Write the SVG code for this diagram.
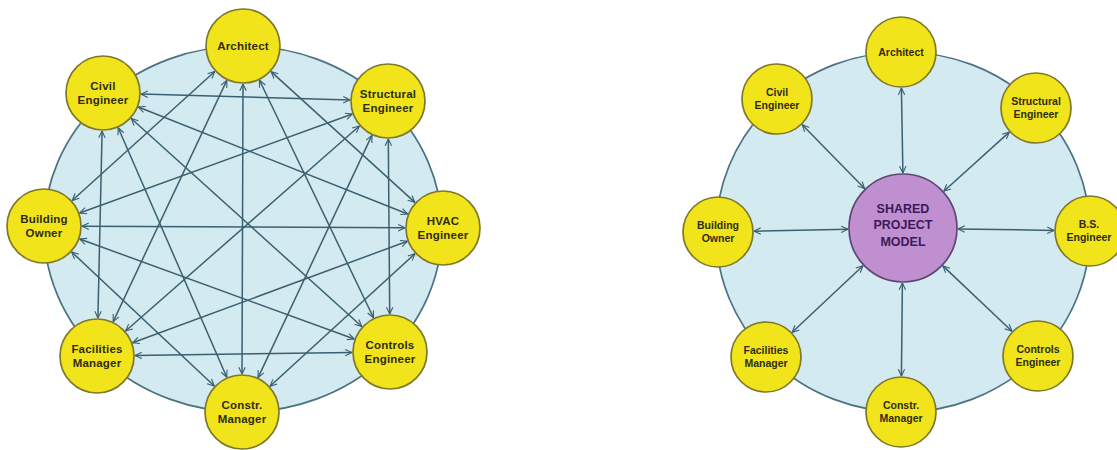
<svg xmlns="http://www.w3.org/2000/svg" width="1117" height="450" viewBox="0 0 1117 450">
<defs>
<style>
.bg{fill:#d4eaf1;stroke:#4a7282;stroke-width:1.7}
.node{fill:#f2e41a;stroke:#7d782a;stroke-width:1.7}
.hub{fill:#c08fcf;stroke:#5e4676;stroke-width:1.7}
.lbl{font-family:"Liberation Sans",Arial,sans-serif;font-weight:bold;font-size:11.5px;fill:#2e2c12;text-anchor:middle;letter-spacing:0.2px}
.lbl2{font-family:"Liberation Sans",Arial,sans-serif;font-weight:bold;font-size:10.5px;fill:#2e2c12;text-anchor:middle}
.hubt{font-family:"Liberation Sans",Arial,sans-serif;font-weight:bold;font-size:12.5px;fill:#3a1a5a;text-anchor:middle}
.edge{stroke:#3a6070;stroke-width:1.5;fill:none;marker-start:url(#arr);marker-end:url(#arr)}
</style>
<marker id="arr" viewBox="0 0 10 10" refX="9.5" refY="5" markerWidth="8" markerHeight="8" markerUnits="userSpaceOnUse" orient="auto-start-reverse">
<path d="M1,1 L9.5,5 L1,9" fill="none" stroke="#3a6070" stroke-width="1.4"/>
</marker>
</defs>

<!-- LEFT DIAGRAM -->
<ellipse id="left-ring" class="bg" cx="243" cy="229" rx="199" ry="183"/>

<g id="left-connectors">
<line class="edge" x1="271.1" y1="71.6" x2="414.9" y2="202.4"/>
<line class="edge" x1="259.5" y1="80.2" x2="373.5" y2="317.8"/>
<line class="edge" x1="243" y1="84" x2="242" y2="374"/>
<line class="edge" x1="226.8" y1="80.4" x2="113.2" y2="321.6"/>
<line class="edge" x1="214.8" y1="71.5" x2="72.2" y2="200.5"/>
<line class="edge" x1="388.3" y1="139" x2="389.7" y2="314"/>
<line class="edge" x1="371.9" y1="135.4" x2="258.1" y2="377.6"/>
<line class="edge" x1="359.4" y1="126" x2="125.6" y2="331"/>
<line class="edge" x1="352.3" y1="114" x2="79.7" y2="213"/>
<line class="edge" x1="350" y1="99.9" x2="141" y2="94.1"/>
<line class="edge" x1="415" y1="253.7" x2="270" y2="386.3"/>
<line class="edge" x1="407.4" y1="241.2" x2="132.6" y2="342.8"/>
<line class="edge" x1="405" y1="227.8" x2="82" y2="226.2"/>
<line class="edge" x1="407.7" y1="214" x2="138.3" y2="107"/>
<line class="edge" x1="352" y1="352.5" x2="135" y2="355.5"/>
<line class="edge" x1="354.3" y1="339" x2="79.7" y2="239"/>
<line class="edge" x1="361.8" y1="326.5" x2="131.2" y2="118.5"/>
<line class="edge" x1="214.3" y1="386" x2="71.7" y2="252"/>
<line class="edge" x1="226.8" y1="377.2" x2="118.2" y2="127.8"/>
<line class="edge" x1="97.9" y1="318" x2="102.1" y2="131"/>
</g>

<g id="l-architect"><circle class="node" cx="243" cy="46" r="37"/><text class="lbl" x="243" y="50">Architect</text></g>
<g id="l-civil"><circle class="node" cx="103" cy="93" r="37"/><text class="lbl" x="103" y="90">Civil</text><text class="lbl" x="103" y="104">Engineer</text></g>
<g id="l-structural"><circle class="node" cx="388" cy="101" r="37"/><text class="lbl" x="388" y="98">Structural</text><text class="lbl" x="388" y="112">Engineer</text></g>
<g id="l-building"><circle class="node" cx="44" cy="226" r="37"/><text class="lbl" x="44" y="223">Building</text><text class="lbl" x="44" y="237">Owner</text></g>
<g id="l-hvac"><circle class="node" cx="443" cy="228" r="37"/><text class="lbl" x="443" y="225">HVAC</text><text class="lbl" x="443" y="239">Engineer</text></g>
<g id="l-facilities"><circle class="node" cx="97" cy="356" r="37"/><text class="lbl" x="97" y="353">Facilities</text><text class="lbl" x="97" y="367">Manager</text></g>
<g id="l-controls"><circle class="node" cx="390" cy="352" r="37"/><text class="lbl" x="390" y="349">Controls</text><text class="lbl" x="390" y="363">Engineer</text></g>
<g id="l-constr"><circle class="node" cx="242" cy="412" r="37"/><text class="lbl" x="242" y="409">Constr.</text><text class="lbl" x="242" y="423">Manager</text></g>

<!-- RIGHT DIAGRAM -->
<ellipse id="right-ring" class="bg" cx="903" cy="232" rx="187" ry="180"/>

<g id="right-connectors">
<line class="edge" x1="902.9" y1="173" x2="901.4" y2="88"/>
<line class="edge" x1="864.6" y1="188.6" x2="802.2" y2="124.8"/>
<line class="edge" x1="943.8" y1="191.2" x2="1009.3" y2="132.1"/>
<line class="edge" x1="848" y1="229.2" x2="754" y2="231.2"/>
<line class="edge" x1="958" y1="228.9" x2="1054" y2="230.4"/>
<line class="edge" x1="863" y1="265.7" x2="792.2" y2="332.3"/>
<line class="edge" x1="942.9" y1="265.9" x2="1011.9" y2="331.2"/>
<line class="edge" x1="902.4" y1="283" x2="901.4" y2="376"/>
</g>

<g id="r-hub"><circle class="hub" cx="903" cy="228" r="54"/><text class="hubt" x="903" y="213">SHARED</text><text class="hubt" x="903" y="229">PROJECT</text><text class="hubt" x="903" y="246">MODEL</text></g>
<g id="r-architect"><circle class="node" cx="901" cy="52" r="35"/><text class="lbl2" x="901" y="56">Architect</text></g>
<g id="r-civil"><circle class="node" cx="777" cy="99" r="35"/><text class="lbl2" x="777" y="96">Civil</text><text class="lbl2" x="777" y="109">Engineer</text></g>
<g id="r-structural"><circle class="node" cx="1036" cy="108" r="35"/><text class="lbl2" x="1036" y="105">Structural</text><text class="lbl2" x="1036" y="118">Engineer</text></g>
<g id="r-building"><circle class="node" cx="718" cy="232" r="35"/><text class="lbl2" x="718" y="229">Building</text><text class="lbl2" x="718" y="242">Owner</text></g>
<g id="r-bs"><circle class="node" cx="1090" cy="231" r="35"/><text class="lbl2" x="1089" y="228">B.S.</text><text class="lbl2" x="1089" y="241">Engineer</text></g>
<g id="r-facilities"><circle class="node" cx="766" cy="357" r="35"/><text class="lbl2" x="766" y="354">Facilities</text><text class="lbl2" x="766" y="367">Manager</text></g>
<g id="r-controls"><circle class="node" cx="1038" cy="356" r="35"/><text class="lbl2" x="1038" y="353">Controls</text><text class="lbl2" x="1038" y="366">Engineer</text></g>
<g id="r-constr"><circle class="node" cx="901" cy="412" r="35"/><text class="lbl2" x="901" y="409">Constr.</text><text class="lbl2" x="901" y="422">Manager</text></g>
</svg>
